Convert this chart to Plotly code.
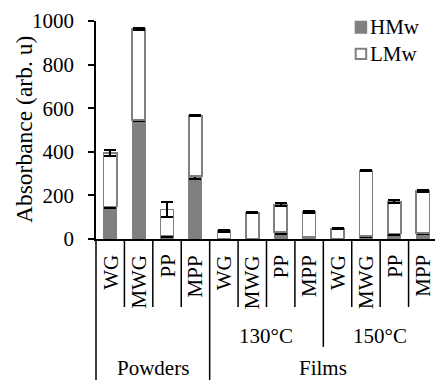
import plotly.graph_objects as go

# Samples along the x axis (three-level category axis)
samples = ["WG", "MWG", "PP", "MPP", "WG", "MWG", "PP", "MPP", "WG", "MWG", "PP", "MPP"]
temperatures = ["130°C", "150°C"]
groups = ["Powders", "Films"]

# Absorbance contributions (arb. u) and their standard deviations
hmw = [150, 545, 16, 289, 2, 3, 33, 10, 1, 14, 26, 28]
hmw_err = [8, 5, 8, 14, 1, 1, 8, 3, 1, 3, 8, 4]
lmw = [245, 418, 119, 277, 35, 117, 125, 114, 47, 299, 145, 193]
lmw_err = [12, 5, 36, 4, 3, 3, 8, 6, 3, 3, 8, 4]

y_ticks = [0, 200, 400, 600, 800, 1000]
y_title = "Absorbance (arb. u)"

FONT = "Liberation Serif"
GREY = "#808080"
xpos = list(range(len(samples)))
x_range = [-0.5, 11.43]

fig = go.Figure()
fig.add_trace(go.Bar(
    x=xpos, y=hmw, name="HMw", width=0.46, showlegend=False,
    marker=dict(color=GREY, line=dict(color=GREY, width=1)),
    error_y=dict(type="data", array=hmw_err, color="black", thickness=2, width=6),
))
fig.add_trace(go.Bar(
    x=xpos, y=lmw, name="LMw", width=0.46, showlegend=False,
    marker=dict(color="white", line=dict(color=GREY, width=1.6)),
    error_y=dict(type="data", array=lmw_err, color="black", thickness=2, width=6),
))

annotations = []
shapes = []

# y-axis title
annotations.append(dict(
    x=0, xref="paper", y=0.5, yref="paper", text=y_title, showarrow=False,
    textangle=-90, xanchor="center", yanchor="middle", xshift=-72,
    font=dict(family=FONT, size=23.5, color="black"),
))

# legend key in the upper right corner
legend_rows = [
    ("HMw", GREY, GREY, 0.946, 0.997, 0.972),
    ("LMw", "white", GREY, 0.826, 0.873, 0.849),
]
for name, fill, edge, y0, y1, yc in legend_rows:
    shapes.append(dict(type="rect", xref="paper", yref="paper",
                       x0=0.766, x1=0.797, y0=y0, y1=y1,
                       fillcolor=fill, line=dict(color=edge, width=2)))
    annotations.append(dict(
        x=0.803, xref="paper", y=yc, yref="paper", text=name, showarrow=False,
        xanchor="left", yanchor="middle",
        font=dict(family=FONT, size=21, color="black"),
    ))

# first level: rotated sample names
for i, s in enumerate(samples):
    annotations.append(dict(
        x=i, xref="x", y=0, yref="paper", text=s, showarrow=False,
        textangle=-90, xanchor="center", yanchor="top", yshift=-14,
        font=dict(family=FONT, size=21, color="black"),
    ))
# second level: film processing temperatures
for j, t in enumerate(temperatures):
    annotations.append(dict(
        x=5.5 + 4 * j, xref="x", y=0, yref="paper", text=t, showarrow=False,
        xanchor="center", yanchor="middle", yshift=-97,
        font=dict(family=FONT, size=21, color="black"),
    ))
# third level: sample form
for k, g in enumerate(groups):
    annotations.append(dict(
        x=[1.5, 7.5][k], xref="x", y=0, yref="paper", text=g, showarrow=False,
        xanchor="center", yanchor="middle", yshift=-129,
        font=dict(family=FONT, size=21, color="black"),
    ))

# category dividers below the axis
line_style = dict(color="black", width=1.5)
shapes.append(dict(type="line", xref="paper", x0=0, x1=0, yref="paper", y0=0, y1=-0.75, line=line_style))
for i in range(1, len(samples)):
    xb = i - 0.5
    if i == 4:
        y1 = -0.75
    elif i == 8:
        y1 = -0.495
    else:
        y1 = -0.312
    shapes.append(dict(type="line", xref="x", x0=xb, x1=xb, yref="paper", y0=0, y1=y1, line=line_style))

fig.update_layout(
    width=435, height=380,
    margin=dict(l=96, r=0, t=21, b=141, pad=0),
    paper_bgcolor="white", plot_bgcolor="white",
    barmode="stack",
    font=dict(family=FONT, size=21, color="black"),
    showlegend=False,
    annotations=annotations,
    shapes=shapes,
)
fig.update_xaxes(
    range=x_range, showticklabels=False, ticks="", showgrid=False, zeroline=False,
    showline=True, linecolor="black", linewidth=1.5,
)
fig.update_yaxes(
    range=[0, 1000], tickvals=y_ticks, ticks="outside", ticklen=6, tickwidth=1.5,
    tickcolor="black", showgrid=False, zeroline=False,
    showline=True, linecolor="black", linewidth=1.5,
    tickfont=dict(family=FONT, size=21), ticklabelstandoff=10,
)

fig.write_html("out.html")
